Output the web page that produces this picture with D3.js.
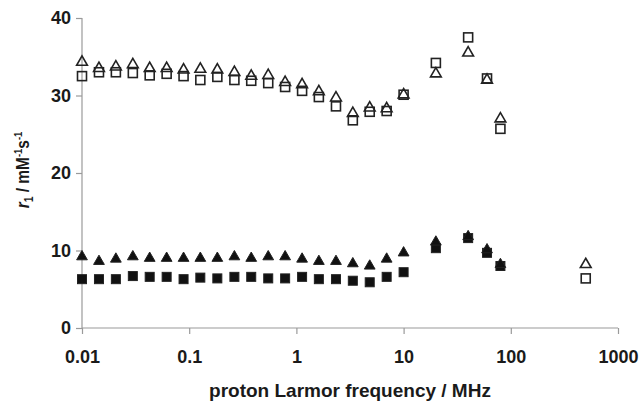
<!DOCTYPE html>
<html>
<head>
<meta charset="utf-8">
<script src="https://cdn.jsdelivr.net/npm/d3@7"></script>
<style>
  html, body { margin: 0; padding: 0; background: #fff; }
  svg text { font-family: "Liberation Sans", Arial, sans-serif; font-weight: bold; fill: #1a1a1a; }
</style>
</head>
<body>
<div id="chart"></div>
<script>
// Proton Larmor frequency (MHz) for the field-cycling points
const freqs = [0.01, 0.0144, 0.0207, 0.0298, 0.0428, 0.0616, 0.0886, 0.127, 0.183, 0.264,
  0.379, 0.546, 0.785, 1.13, 1.62, 2.34, 3.36, 4.83, 6.95, 10, 20, 40, 60, 80, 500];

// open triangles
const openTri = [34.3, 33.5, 33.7, 34.0, 33.5, 33.5, 33.3, 33.4, 33.3, 33.0,
  32.5, 32.6, 31.7, 31.4, 30.5, 29.7, 27.7, 28.4, 28.3, 30.1, 32.8, 35.5, 32.0, 27.0, 8.2];
// open squares
const openSq = [32.5, 33.0, 33.0, 32.9, 32.6, 32.8, 32.5, 32.0, 32.4, 32.0,
  31.9, 31.6, 31.1, 30.6, 29.8, 28.6, 26.8, 27.9, 28.0, 30.1, 34.2, 37.5, 32.2, 25.7, 6.4];
// filled triangles (no 500 MHz point)
const fillTri = [9.2, 8.6, 8.9, 9.2, 9.0, 9.0, 9.0, 9.0, 9.0, 9.2,
  9.0, 9.2, 9.2, 8.9, 8.6, 8.6, 8.3, 8.0, 8.9, 9.7, 11.1, 11.8, 10.1, 8.2];
// filled squares
const fillSq = [6.3, 6.3, 6.3, 6.7, 6.6, 6.6, 6.3, 6.5, 6.4, 6.6,
  6.6, 6.4, 6.4, 6.6, 6.3, 6.3, 6.1, 5.9, 6.6, 7.2, 10.3, 11.6, 9.7, 8.0];

const xTicks = [0.01, 0.1, 1, 10, 100, 1000];
const xTickLabels = ['0.01', '0.1', '1', '10', '100', '1000'];
const yTicks = [0, 10, 20, 30, 40];

const width = 642, height = 402;
const margin = { left: 82, right: 24, top: 18, bottom: 74 };

const svg = d3.select('#chart').append('svg')
  .attr('width', width)
  .attr('height', height);

const x = d3.scaleLog()
  .domain([0.01, 1000])
  .range([margin.left, width - margin.right]);

const y = d3.scaleLinear()
  .domain([0, 40])
  .range([height - margin.bottom, margin.top]);

// Axes
const xAxis = svg.append('g')
  .attr('transform', `translate(0,${y(0)})`)
  .call(d3.axisBottom(x).tickValues(xTicks).tickFormat((d, i) => xTickLabels[i]).tickSize(6).tickPadding(16));

const yAxis = svg.append('g')
  .attr('transform', `translate(${x(0.01)},0)`)
  .call(d3.axisLeft(y).tickValues(yTicks).tickSize(6).tickPadding(5));

[xAxis, yAxis].forEach(a => {
  a.selectAll('path, line').attr('stroke', '#9a9a9a').attr('stroke-width', 1.2);
  a.selectAll('text').attr('font-size', 18).style('fill', '#1a1a1a');
});
yAxis.select('.domain').attr('d', `M0,${y(0)}V${y(40)}`);
xAxis.select('.domain').attr('d', `M${x(0.01)},0H${x(1000)}`);

// Markers
const triPath = d3.symbol().type(d3.symbolTriangle).size(50);
const sqSide = 9;

function triangles(vals, filled) {
  svg.append('g')
    .selectAll('path')
    .data(vals)
    .join('path')
    .attr('d', triPath)
    .attr('transform', (d, i) => `translate(${x(freqs[i])},${y(d)})`)
    .attr('fill', filled ? '#111' : 'none')
    .attr('stroke', '#222')
    .attr('stroke-width', filled ? 1 : 1.6);
}

function squares(vals, filled) {
  svg.append('g')
    .selectAll('rect')
    .data(vals)
    .join('rect')
    .attr('x', (d, i) => x(freqs[i]) - sqSide / 2)
    .attr('y', d => y(d) - sqSide / 2)
    .attr('width', sqSide)
    .attr('height', sqSide)
    .attr('fill', filled ? '#111' : 'none')
    .attr('stroke', '#222')
    .attr('stroke-width', filled ? 1 : 1.6);
}

squares(openSq, false);
triangles(openTri, false);
squares(fillSq, true);
triangles(fillTri, true);

// Axis titles
svg.append('text')
  .attr('x', (x(0.01) + x(1000)) / 2)
  .attr('y', 397)
  .attr('text-anchor', 'middle')
  .attr('font-size', 19)
  .text('proton Larmor frequency / MHz');

// y title is a bit condensed along its length in the original
const yt = svg.append('text')
  .attr('transform', 'translate(29,170) rotate(-90) scale(0.86,1)')
  .attr('text-anchor', 'middle')
  .attr('font-size', 18);
yt.append('tspan').attr('font-style', 'italic').text('r');
yt.append('tspan').attr('font-size', 12).attr('dy', 4).text('1');
yt.append('tspan').attr('dy', -4).text(' / mM');
yt.append('tspan').attr('font-size', 11).attr('dy', -7).text('-1');
yt.append('tspan').attr('dy', 7).text('s');
yt.append('tspan').attr('font-size', 11).attr('dy', -7).text('-1');
</script>
</body>
</html>
